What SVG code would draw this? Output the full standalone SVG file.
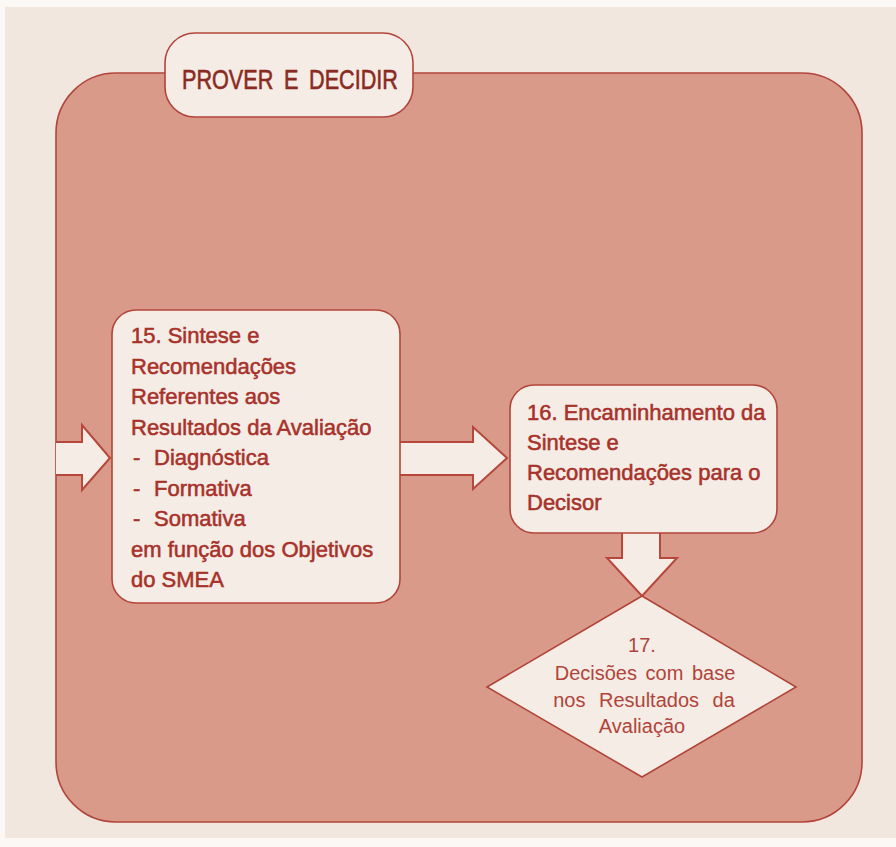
<svg xmlns="http://www.w3.org/2000/svg" width="896" height="847" viewBox="0 0 896 847">
  <style>
    .panel { fill: #d99a8a; stroke: #b2453a; stroke-width: 1.6; }
    .box { fill: #f5ece6; stroke: #b2453a; stroke-width: 1.6; }
    .arrow { fill: #f5ece6; stroke: #b8473b; stroke-width: 2; stroke-linejoin: miter; }
    .txt { font-family: "Liberation Sans", Arial, sans-serif; font-size: 22px; fill: #a8322a; stroke: #a8322a; stroke-width: 0.55; }
    .title { font-family: "Liberation Sans", Arial, sans-serif; font-size: 28px; fill: #8a2b22; stroke: #8a2b22; stroke-width: 0.6; }
    .dtxt { font-family: "Liberation Sans", Arial, sans-serif; font-size: 20px; fill: #b0443a; text-anchor: middle; }
  </style>

  <!-- page -->
  <rect x="0" y="0" width="896" height="847" fill="#fbf8f6"/>
  <rect x="5" y="7" width="891" height="831" fill="#f2e7df"/>

  <!-- stage panel -->
  <rect class="panel" x="56" y="73" width="806" height="749" rx="60" ry="60"/>

  <g id="node-title">
    <rect class="box" x="165" y="33" width="248" height="84" rx="30" ry="30"/>
    <text class="title" x="182" y="89" textLength="216" lengthAdjust="spacingAndGlyphs" word-spacing="6">PROVER E DECIDIR</text>
  </g>

  <g id="connectors">
    <!-- incoming arrow -->
    <path class="arrow" d="M56,442 L82,442 L82,425 L110,458 L82,490 L82,475 L56,475"/>
    <!-- 15 to 16 -->
    <path class="arrow" d="M400,442 L473,442 L473,427 L507,458 L473,489 L473,475 L400,475"/>
    <!-- 16 to 17 -->
    <path class="arrow" d="M622,533 L622,558 L607,558 L642,596 L677,558 L660,558 L660,533"/>
  </g>

  <g id="node-15">
    <rect class="box" x="112" y="310" width="288" height="293" rx="24" ry="24"/>
    <text class="txt" x="131" y="343">15. Sintese e</text>
    <text class="txt" x="131" y="373.5">Recomendações</text>
    <text class="txt" x="131" y="404">Referentes aos</text>
    <text class="txt" x="131" y="434.5">Resultados da Avaliação</text>
    <text class="txt" y="465"><tspan x="133">-</tspan><tspan x="154">Diagnóstica</tspan></text>
    <text class="txt" y="495.5"><tspan x="133">-</tspan><tspan x="154">Formativa</tspan></text>
    <text class="txt" y="526"><tspan x="133">-</tspan><tspan x="154">Somativa</tspan></text>
    <text class="txt" x="131" y="556.5">em função dos Objetivos</text>
    <text class="txt" x="131" y="587">do SMEA</text>
  </g>

  <g id="node-16">
    <rect class="box" x="510" y="385" width="267" height="148" rx="24" ry="24"/>
    <text class="txt" x="527" y="420">16. Encaminhamento da</text>
    <text class="txt" x="527" y="450">Sintese e</text>
    <text class="txt" x="527" y="480">Recomendações para o</text>
    <text class="txt" x="527" y="510">Decisor</text>
  </g>

  <g id="node-17">
    <polygon class="box" points="642,596 796,687 642,777 487,687"/>
    <text class="dtxt" x="642" y="652">17.</text>
    <text class="dtxt" x="645" y="680" word-spacing="3">Decisões com base</text>
    <text class="dtxt" x="644" y="707" word-spacing="8">nos Resultados da</text>
    <text class="dtxt" x="642" y="733">Avaliação</text>
  </g>
</svg>
